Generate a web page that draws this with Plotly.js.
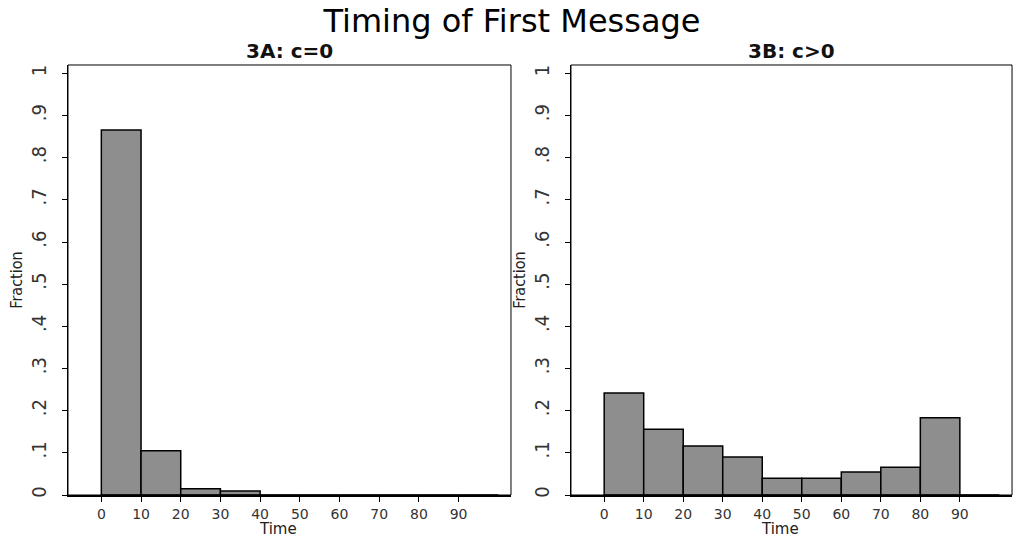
<!DOCTYPE html>
<html>
<head>
<meta charset="utf-8">
<script src="https://cdn.plot.ly/plotly-3.0.1.min.js"></script>
<style>
  html, body { margin: 0; padding: 0; background: #fff; }
  #chart { width: 1024px; height: 538px; }
</style>
</head>
<body>
<div id="chart"></div>
<script>
// bin starts (minutes), each bin is 10 wide
const binStarts = [0, 10, 20, 30, 40, 50, 60, 70, 80, 90];
// fraction of first messages per bin
const fracA = [0.866, 0.105, 0.015, 0.0095, 0, 0, 0, 0, 0, 0];
const fracB = [0.242, 0.156, 0.116, 0.090, 0.040, 0.040, 0.0545, 0.066, 0.183, 0];
const xTicks = [0, 10, 20, 30, 40, 50, 60, 70, 80, 90];
const yTicks = [0, 0.1, 0.2, 0.3, 0.4, 0.5, 0.6, 0.7, 0.8, 0.9, 1];
const yTickText = ['0', '.1', '.2', '.3', '.4', '.5', '.6', '.7', '.8', '.9', '1'];
const panelTitles = ['3A: c=0', '3B: c>0'];

const wide = 'DejaVu Sans, Liberation Sans, Arial, sans-serif';
const narrow = 'Liberation Sans Narrow, DejaVu Sans Condensed, Liberation Sans, sans-serif';

function barTrace(vals, xa, ya) {
  return {
    type: 'bar',
    x: binStarts,
    y: vals,
    width: 10,
    offset: 0,
    xaxis: xa,
    yaxis: ya,
    marker: { color: '#8e8e8e', line: { color: '#000', width: 1.5 } },
    hoverinfo: 'x+y',
    showlegend: false
  };
}

function xAxis(domain, anchor) {
  return {
    domain: domain,
    anchor: anchor,
    range: [-8.4, 103.2],
    tickvals: xTicks,
    ticktext: xTicks.map(String),
    ticks: 'outside',
    ticklen: 5,
    tickwidth: 1,
    tickcolor: '#000',
    ticklabelstandoff: 0,
    showline: true,
    linecolor: '#000',
    linewidth: 2,
    showgrid: false,
    zeroline: false,
    tickfont: { family: wide, size: 14, color: '#333' }
  };
}

function yAxis(anchor) {
  return {
    domain: [0.0799, 0.8792],
    anchor: anchor,
    range: [0, 1.02],
    tickvals: yTicks,
    ticktext: yTickText,
    tickangle: -90,
    ticks: 'outside',
    ticklen: 5,
    tickwidth: 1,
    tickcolor: '#000',
    ticklabelstandoff: 8,
    showline: true,
    linecolor: '#000',
    linewidth: 1,
    showgrid: false,
    zeroline: false,
    tickfont: { family: narrow, size: 20, color: '#333' },
    title: { text: 'Fraction', standoff: 0, font: { family: narrow, size: 16, color: '#222' } }
  };
}

const data = [barTrace(fracA, 'x', 'y'), barTrace(fracB, 'x2', 'y2')];

const frame = (xr, yr) => ({
  type: 'rect', xref: xr + ' domain', yref: yr + ' domain',
  x0: 0, x1: 1, y0: 0, y1: 1,
  line: { color: '#000', width: 1 }, fillcolor: 'rgba(0,0,0,0)', layer: 'above'
});

const panelLabels = panelTitles.map((t, i) => ({
  text: '<b>' + t + '</b>',
  xref: (i === 0 ? 'x' : 'x2') + ' domain',
  yref: 'paper',
  x: 0.5, y: 1 - 51 / 538,
  xanchor: 'center', yanchor: 'middle',
  showarrow: false,
  font: { family: wide, size: 20, color: '#111' }
}));

// the x-axis title sits tucked right under the tick labels
const timeLabels = ['x', 'x2'].map(xa => ({
  text: 'Time',
  xref: xa + ' domain',
  yref: 'paper',
  x: 0.475, y: 1 - 529 / 538,
  xanchor: 'center', yanchor: 'middle',
  showarrow: false,
  font: { family: wide, size: 15, color: '#222' }
}));

const layout = {
  width: 1024,
  height: 538,
  margin: { l: 0, r: 0, t: 0, b: 0 },
  paper_bgcolor: '#fff',
  plot_bgcolor: '#fff',
  bargap: 0,
  title: {
    text: 'Timing of First Message',
    x: 0.5, xanchor: 'center',
    y: 0.962, yanchor: 'middle',
    font: { family: wide, size: 32, color: '#000' }
  },
  xaxis: xAxis([0.0664, 0.499], 'y'),
  yaxis: yAxis('x'),
  xaxis2: xAxis([0.5576, 0.9883], 'y2'),
  yaxis2: yAxis('x2'),
  shapes: [frame('x', 'y'), frame('x2', 'y2')],
  annotations: panelLabels.concat(timeLabels)
};

Plotly.newPlot('chart', data, layout, { displayModeBar: false, staticPlot: true });
</script>
</body>
</html>
